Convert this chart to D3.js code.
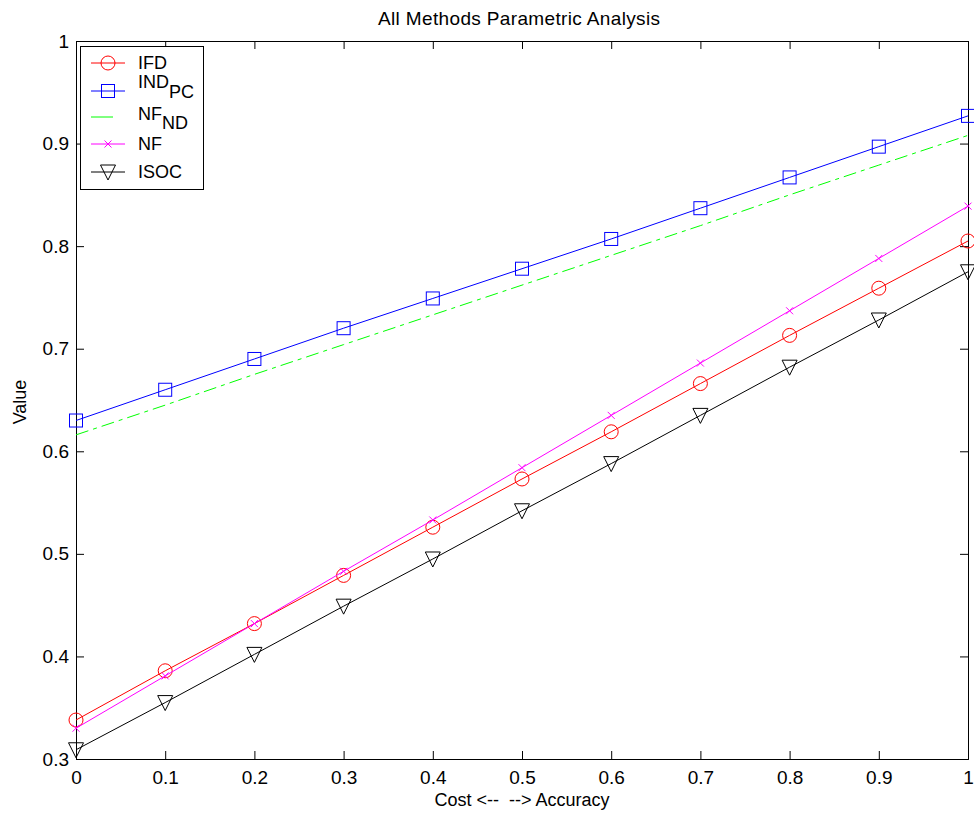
<!DOCTYPE html>
<html>
<head>
<meta charset="utf-8">
<script src="https://cdn.jsdelivr.net/npm/d3@7"></script>
<style>
  body { margin: 0; background: #fff; }
  svg text { font-family: "Liberation Sans", Arial, sans-serif; fill: #000; }
</style>
</head>
<body>
<div id="chart"></div>
<script>
// x positions (Cost <-- --> Accuracy)
const xs = [0, 0.1, 0.2, 0.3, 0.4, 0.5, 0.6, 0.7, 0.8, 0.9, 1];

// values
const ifd   = [0.338, 0.386, 0.432, 0.479, 0.526, 0.573, 0.619, 0.666, 0.713, 0.759, 0.805];
const indPc = [0.630, 0.660, 0.690, 0.720, 0.749, 0.778, 0.807, 0.837, 0.867, 0.897, 0.927];
const nfNd  = [0.616, 0.645, 0.675, 0.704, 0.733, 0.762, 0.791, 0.820, 0.850, 0.879, 0.908];
const nf    = [0.330, 0.381, 0.432, 0.483, 0.533, 0.584, 0.635, 0.686, 0.737, 0.788, 0.839];
const isoc  = [0.309, 0.355, 0.402, 0.449, 0.495, 0.542, 0.588, 0.635, 0.682, 0.728, 0.775];

const xTicks = [0, 0.1, 0.2, 0.3, 0.4, 0.5, 0.6, 0.7, 0.8, 0.9, 1];
const yTicks = [0.3, 0.4, 0.5, 0.6, 0.7, 0.8, 0.9, 1];

const series = [
  { name: 'IFD', sub: null, vals: ifd, color: '#ff0000', marker: 'circle', dash: null },
  { name: 'IND', sub: 'PC', vals: indPc, color: '#0000ff', marker: 'square', dash: null },
  { name: 'NF', sub: 'ND', vals: nfNd, color: '#00ff00', marker: null, dash: '13,5,4,5' },
  { name: 'NF', sub: null, vals: nf, color: '#ff00ff', marker: 'x', dash: null },
  { name: 'ISOC', sub: null, vals: isoc, color: '#000000', marker: 'tri', dash: null },
];

const W = 974, H = 815;
const L = 76, R = 968, T = 41, B = 759;

const svg = d3.select('#chart').append('svg')
  .attr('width', W).attr('height', H);

const x = d3.scaleLinear().domain([0, 1]).range([L, R]);
const y = d3.scaleLinear().domain([0.3, 1]).range([B, T]);

const fmt = d => String(d);

// axes box, ticks pointing inward on all four sides
const axB = d3.axisBottom(x).tickValues(xTicks).tickSize(-8).tickPadding(12).tickFormat(fmt);
const axT = d3.axisTop(x).tickValues(xTicks).tickSize(-8).tickFormat('');
const axL = d3.axisLeft(y).tickValues(yTicks).tickSize(-8).tickPadding(7).tickFormat(fmt);
const axR = d3.axisRight(y).tickValues(yTicks).tickSize(-8).tickFormat('');

function style(g) {
  g.select('.domain').attr('stroke', '#000').attr('stroke-width', 1);
  g.selectAll('.tick line').attr('stroke', '#000');
  g.selectAll('.tick text').attr('font-size', 19).attr('font-family', '"Liberation Sans", Arial, sans-serif');
}
svg.append('g').attr('transform', `translate(0,${B})`).call(axB).call(style);
svg.append('g').attr('transform', `translate(0,${T})`).call(axT).call(style);
svg.append('g').attr('transform', `translate(${L},0)`).call(axL).call(style);
svg.append('g').attr('transform', `translate(${R},0)`).call(axR).call(style);

const line = d3.line().x((d, i) => x(xs[i])).y(d => y(d));

function drawMarker(g, type, cx, cy, color) {
  if (type === 'circle') {
    g.append('circle').attr('cx', cx).attr('cy', cy).attr('r', 7)
      .attr('fill', 'none').attr('stroke', color);
  } else if (type === 'square') {
    g.append('rect').attr('x', cx - 6.5).attr('y', cy - 6.5).attr('width', 13).attr('height', 13)
      .attr('fill', 'none').attr('stroke', color);
  } else if (type === 'x') {
    g.append('path').attr('d', `M${cx - 3.5},${cy - 3.5}L${cx + 3.5},${cy + 3.5}M${cx - 3.5},${cy + 3.5}L${cx + 3.5},${cy - 3.5}`)
      .attr('fill', 'none').attr('stroke', color);
  } else if (type === 'tri') {
    g.append('path').attr('d', `M${cx - 7.5},${cy - 7}L${cx + 7.5},${cy - 7}L${cx},${cy + 8}Z`)
      .attr('fill', 'none').attr('stroke', color);
  }
}

const plot = svg.append('g');
series.forEach(s => {
  plot.append('path').datum(s.vals)
    .attr('d', line)
    .attr('fill', 'none')
    .attr('stroke', s.color)
    .attr('stroke-width', 1)
    .attr('stroke-dasharray', s.dash);
  if (s.marker) {
    s.vals.forEach((v, i) => drawMarker(plot, s.marker, x(xs[i]), y(v), s.color));
  }
});

// legend (row line y, text baseline, subscript offset)
const lg = svg.append('g');
lg.append('rect').attr('x', 80.5).attr('y', 46.5).attr('width', 123).attr('height', 143)
  .attr('fill', '#fff').attr('stroke', '#000');
const rowY = [63, 91, 117, 144, 172];
const textY = [69, 88, 120, 150, 178];
const subDy = [0, 10, 9, 0, 0];
series.forEach((s, i) => {
  const ry = rowY[i];
  lg.append('line').attr('x1', 91).attr('x2', s.marker ? 125 : 113).attr('y1', ry).attr('y2', ry)
    .attr('stroke', s.color);
  if (s.marker) drawMarker(lg, s.marker, 108, ry, s.color);
  const t = lg.append('text').attr('x', 138).attr('y', textY[i]).attr('font-size', 18);
  t.append('tspan').text(s.name);
  if (s.sub) t.append('tspan').attr('dy', subDy[i]).text(s.sub);
});

// title and axis labels
svg.append('text').attr('x', 519).attr('y', 25).attr('text-anchor', 'middle')
  .attr('font-size', 19).attr('textLength', 282).attr('lengthAdjust', 'spacing')
  .text('All Methods Parametric Analysis');
svg.append('text').attr('x', 522).attr('y', 806).attr('text-anchor', 'middle')
  .attr('font-size', 18).attr('xml:space', 'preserve').text('Cost <--  --> Accuracy');
svg.append('text').attr('transform', `translate(26,${402}) rotate(-90)`)
  .attr('text-anchor', 'middle').attr('font-size', 18).text('Value');
</script>
</body>
</html>
